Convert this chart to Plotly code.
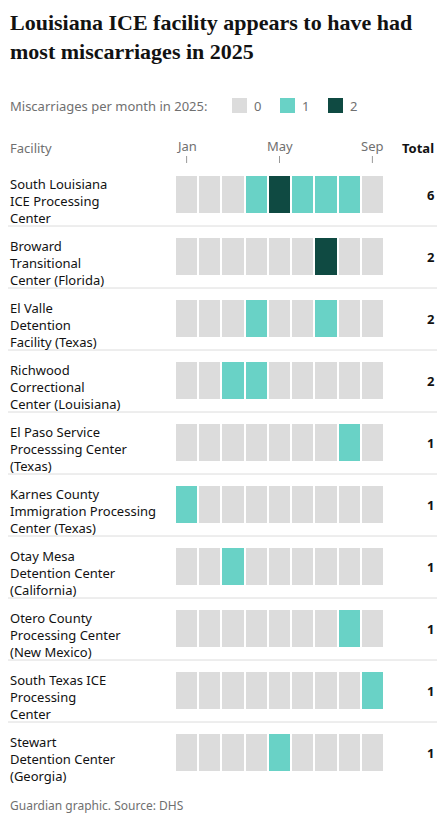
import plotly.graph_objects as go

months = ["Jan", "Feb", "Mar", "Apr", "May", "Jun", "Jul", "Aug", "Sep"]
facilities = [
    "South Louisiana<br>ICE Processing<br>Center",
    "Broward<br>Transitional<br>Center (Florida)",
    "El Valle<br>Detention<br>Facility (Texas)",
    "Richwood<br>Correctional<br>Center (Louisiana)",
    "El Paso Service<br>Processsing Center<br>(Texas)",
    "Karnes County<br>Immigration Processing<br>Center (Texas)",
    "Otay Mesa<br>Detention Center<br>(California)",
    "Otero County<br>Processing Center<br>(New Mexico)",
    "South Texas ICE<br>Processing<br>Center",
    "Stewart<br>Detention Center<br>(Georgia)",
]
counts = [
    [0, 0, 0, 1, 2, 1, 1, 1, 0],
    [0, 0, 0, 0, 0, 0, 2, 0, 0],
    [0, 0, 0, 1, 0, 0, 1, 0, 0],
    [0, 0, 1, 1, 0, 0, 0, 0, 0],
    [0, 0, 0, 0, 0, 0, 0, 1, 0],
    [1, 0, 0, 0, 0, 0, 0, 0, 0],
    [0, 0, 1, 0, 0, 0, 0, 0, 0],
    [0, 0, 0, 0, 0, 0, 0, 1, 0],
    [0, 0, 0, 0, 0, 0, 0, 0, 1],
    [0, 0, 0, 0, 1, 0, 0, 0, 0],
]
shown_months = ["Jan", "May", "Sep"]

GREY, TEAL, DARK = "#dcdcdc", "#69d2c6", "#0f4a42"
TXT, SUB = "#121212", "#707070"
OFF = 8  # the page sits 8px in from the window edge
W, H = 445 - OFF, 822 - OFF
L, R, T, B = 175, 384, 164, 784  # plot area, window pixels
LX = OFF  # left edge of text
RX = 436  # right edge of totals
ROW = (B - T) / len(facilities)


def px(x):
    return (x - L) / (R - L)


def py(y):
    return 1 - (y - T) / (B - T)


def note(x, y, text, **kw):
    d = dict(xref="paper", yref="paper", x=px(x), y=py(y), text=text, showarrow=False,
             xanchor="left", yanchor="middle", font=dict(size=13, color=kw.pop("color", TXT)))
    d.update(kw)
    return d


fig = go.Figure(go.Heatmap(
    z=counts, x=months, y=list(range(len(facilities))),
    zmin=0, zmax=2, showscale=False, xgap=2, ygap=25,
    colorscale=[[0, GREY], [0.33, GREY], [0.33, TEAL], [0.67, TEAL], [0.67, DARK], [1, DARK]],
    hoverinfo="skip",
))

ann = []
shapes = []
for i, (name, row) in enumerate(zip(facilities, counts)):
    top = T + i * ROW
    ann.append(note(LX, top + 9, name, yanchor="top", align="left"))
    ann.append(note(RX, top + ROW / 2, f"<b>{sum(row)}</b>", xanchor="right"))
    if i > 0:
        shapes.append(dict(type="line", xref="paper", yref="paper", x0=px(OFF), x1=px(445),
                           y0=py(top), y1=py(top), line=dict(color="#dcdcdc", width=1)))

cw = (R - L) / len(months)
for m in shown_months:
    cx = L + (months.index(m) + 0.5) * cw
    ann.append(note(cx, 146, m, xanchor="center", color=SUB))
    shapes.append(dict(type="line", xref="paper", yref="paper", x0=px(cx), x1=px(cx),
                       y0=py(156), y1=py(163), line=dict(color="#999999", width=1)))

ann += [
    note(LX, 148, "Facility", color=SUB),
    note(RX, 148, "<b>Total</b>", xanchor="right"),
    note(LX, 106, "Miscarriages per month in 2025:", color=SUB),
    note(LX, OFF, "<b>Louisiana ICE facility appears to have had<br>most miscarriages in 2025</b>",
         yanchor="top", align="left", font=dict(size=22, color=TXT, family="Liberation Serif")),
    note(LX, 805, "Guardian graphic. Source: DHS", font=dict(size=12, color=SUB)),
]
for x0, col, lab in [(232, GREY, "0"), (280, TEAL, "1"), (328, DARK, "2")]:
    shapes.append(dict(type="rect", xref="paper", yref="paper", x0=px(x0), x1=px(x0 + 15),
                       y0=py(98), y1=py(113), fillcolor=col, line=dict(width=0)))
    ann.append(note(x0 + 20, 106, lab, color=SUB))

fig.update_layout(
    width=W, height=H, margin=dict(l=L - OFF, r=445 - R, t=T - OFF, b=822 - B),
    paper_bgcolor="white", plot_bgcolor="white",
    font=dict(family="Noto Sans", color=TXT),
    xaxis=dict(visible=False, fixedrange=True),
    yaxis=dict(visible=False, autorange="reversed", fixedrange=True),
    annotations=ann, shapes=shapes,
)
fig.write_html("out.html")
